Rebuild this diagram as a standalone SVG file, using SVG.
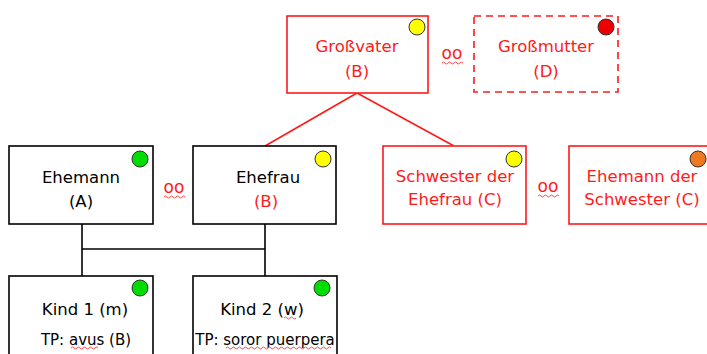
<svg xmlns="http://www.w3.org/2000/svg" width="707" height="354" viewBox="0 0 707 354">
<style>
.box{fill:#fff;stroke-width:1.6}
.blk{stroke:#000}
.red{stroke:#ff1a1a}
.dash{stroke-dasharray:7,5}
.t{font-family:"DejaVu Sans","Liberation Sans",sans-serif;font-size:16.5px;text-anchor:middle}
.s{font-size:15px}
.o{font-size:17px}
.tb{fill:#000}
.tr{fill:#ff1a1a}
.dot{stroke:#333;stroke-width:1}
.sq{fill:none;stroke:#ff3333;stroke-width:0.9}
.con{fill:none;stroke-width:1.6}
</style>
<rect width="707" height="354" fill="#fff"/>
<g id="connectors">
<line class="con red" x1="357" y1="93" x2="265" y2="146"/>
<line class="con red" x1="357" y1="93" x2="454" y2="146"/>
<line class="con blk" x1="82" y1="224" x2="82" y2="276"/>
<line class="con blk" x1="265" y1="224" x2="265" y2="276"/>
<line class="con blk" x1="82" y1="249" x2="265" y2="249"/>
</g>
<g id="grossvater">
<rect class="box red" x="287" y="16" width="141" height="77"/>
<circle class="dot" cx="417" cy="27" r="8" fill="#ffff00"/>
<text class="t tr" x="357" y="52">Großvater</text>
<text class="t tr" x="357" y="77">(B)</text>
</g>
<g id="oo1">
<text class="t tr o" x="452" y="59">oo</text>
<path class="sq" d="M442,63 q1.5,-2 3,0 t3,0 t3,0 t3,0 t3,0 t3,0 t3,0"/>
</g>
<g id="grossmutter">
<rect class="box red dash" x="474" y="16" width="144" height="76"/>
<circle class="dot" cx="606" cy="27" r="8" fill="#ee0000"/>
<text class="t tr" x="546" y="52">Großmutter</text>
<text class="t tr" x="546" y="77">(D)</text>
</g>
<g id="ehemann">
<rect class="box blk" x="9" y="146" width="144" height="78"/>
<circle class="dot" cx="140" cy="159" r="8" fill="#00dd00"/>
<text class="t tb" x="81" y="183">Ehemann</text>
<text class="t tb" x="81" y="207">(A)</text>
</g>
<g id="oo2">
<text class="t tr o" x="174" y="193">oo</text>
<path class="sq" d="M164,197 q1.5,-2 3,0 t3,0 t3,0 t3,0 t3,0 t3,0 t3,0"/>
</g>
<g id="ehefrau">
<rect class="box blk" x="193" y="146" width="143" height="78"/>
<circle class="dot" cx="323" cy="159" r="8" fill="#ffff00"/>
<text class="t tb" x="268" y="183">Ehefrau</text>
<text class="t tr" x="266" y="207">(B)</text>
</g>
<g id="schwester">
<rect class="box red" x="383" y="146" width="143" height="78"/>
<circle class="dot" cx="514" cy="159" r="8" fill="#ffff00"/>
<text class="t tr" x="455" y="182">Schwester der</text>
<text class="t tr" x="455" y="205">Ehefrau (C)</text>
</g>
<g id="oo3">
<text class="t tr o" x="548" y="192">oo</text>
<path class="sq" d="M538,196 q1.5,-2 3,0 t3,0 t3,0 t3,0 t3,0 t3,0 t3,0"/>
</g>
<g id="ehemann-schwester">
<rect class="box red" x="569" y="146" width="150" height="78"/>
<circle class="dot" cx="698" cy="159" r="8" fill="#f07820"/>
<text class="t tr" x="642" y="182">Ehemann der</text>
<text class="t tr" x="642" y="205">Schwester (C)</text>
</g>
<g id="kind1">
<rect class="box blk" x="9" y="276" width="144" height="90"/>
<circle class="dot" cx="140" cy="288" r="8" fill="#00dd00"/>
<text class="t tb" x="85" y="315">Kind 1 (m)</text>
<text class="t tb s" x="86" y="345">TP: avus (B)</text>
<path class="sq" d="M71,348 q1.5,-2 3,0 t3,0 t3,0 t3,0 t3,0 t3,0 t3,0 t3,0 t3,0"/>
</g>
<g id="kind2">
<rect class="box blk" x="193" y="276" width="144" height="90"/>
<circle class="dot" cx="322" cy="288" r="8" fill="#00dd00"/>
<text class="t tb" x="262" y="315">Kind 2 (w)</text>
<path class="sq" d="M284,318 q1.5,-2 3,0 t3,0 t3,0 t3,0"/>
<text class="t tb s" x="265" y="345">TP: soror puerpera</text>
<path class="sq" d="M226,348 q1.5,-2 3,0 t3,0 t3,0 t3,0 t3,0 t3,0 t3,0 t3,0 t3,0 t3,0 t3,0 t3,0 t3,0 t3,0 t3,0 t3,0 t3,0 t3,0 t3,0 t3,0 t3,0 t3,0 t3,0 t3,0 t3,0 t3,0 t3,0 t3,0 t3,0 t3,0 t3,0 t3,0 t3,0 t3,0 t3,0"/>
</g>
</svg>
